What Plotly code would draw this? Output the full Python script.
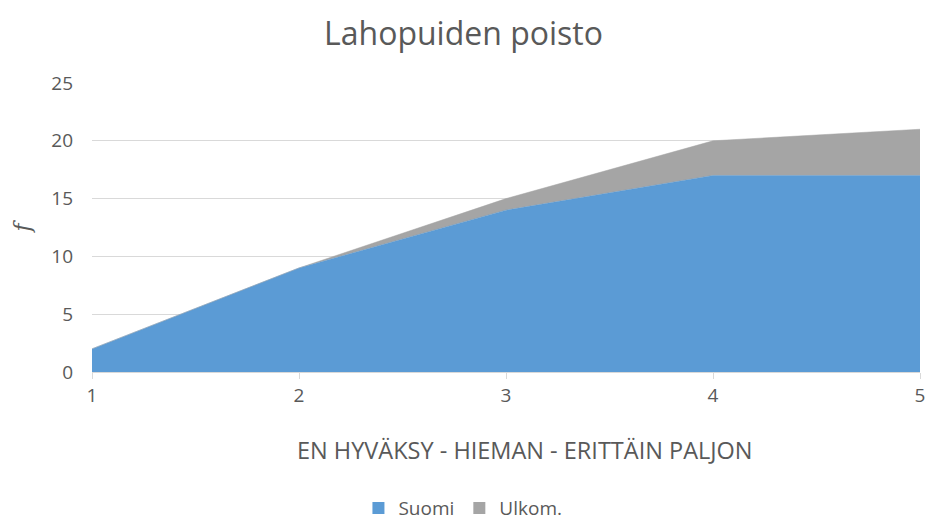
import plotly.graph_objects as go

categories = [1, 2, 3, 4, 5]
suomi = [2, 9, 14, 17, 17]
ulkom = [0, 0, 1, 3, 4]
y_ticks = [0, 5, 10, 15, 20, 25]
series_names = ["Suomi", "Ulkom."]
colors = ["#5B9BD5", "#A5A5A5"]
x_title = "EN HYVÄKSY - HIEMAN - ERITTÄIN PALJON"

FONT = "Open Sans"
TXT = "#595959"

fig = go.Figure()
for vals, name, col in zip([suomi, ulkom], series_names, colors):
    fig.add_trace(go.Scatter(x=categories, y=vals, name=name, mode="lines",
                             stackgroup="one", line=dict(width=0.5, color=col),
                             fillcolor=col, showlegend=False))
for name, col in zip(series_names, colors):
    fig.add_trace(go.Scatter(x=[None], y=[None], name=name, mode="markers",
                             marker=dict(symbol="square", size=12, color=col)))

fig.add_annotation(text=x_title, xref="paper", yref="paper", x=0.523, y=-0.27,
                   xanchor="center", yanchor="middle", showarrow=False,
                   font=dict(size=23.5, color=TXT, family=FONT))

fig.update_layout(
    width=927, height=521,
    margin=dict(l=92, r=7, t=83, b=149, autoexpand=False),
    paper_bgcolor="white", plot_bgcolor="white",
    font=dict(family=FONT, color=TXT, size=16),
    title=dict(text="Lahopuiden poisto", x=0.5, xanchor="center", y=0.935, yanchor="middle",
               font=dict(size=32, color=TXT, family=FONT)),
    xaxis=dict(range=[1, 5], tickvals=categories, showgrid=False, showline=True,
               linecolor="#D9D9D9", linewidth=1, ticks="outside", tickcolor="#D9D9D9",
               ticklen=6, tickfont=dict(size=19), zeroline=False, automargin=False,
               ticklabeloverflow="allow"),
    yaxis=dict(range=[0, 25], tickvals=y_ticks, showgrid=True, gridcolor="#D9D9D9",
               zeroline=False, showline=False, tickfont=dict(size=19), ticklabelstandoff=18,
               automargin=False, ticklabeloverflow="allow",
               title=dict(text="<i>f</i>", font=dict(size=22, family="DejaVu Serif"), standoff=14)),
    legend=dict(orientation="h", x=0.448, xanchor="center", y=-0.471, yanchor="middle",
                font=dict(size=19), traceorder="normal", itemwidth=30),
    showlegend=True,
)

fig.write_html("out.html", post_script="document.body.style.margin='0';",
               config={"displayModeBar": False})
